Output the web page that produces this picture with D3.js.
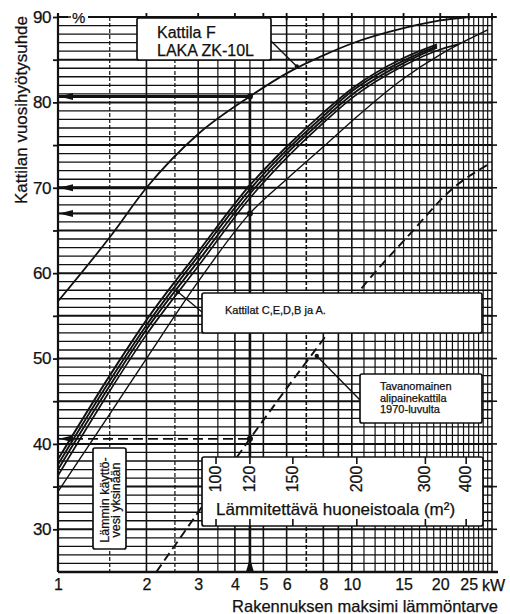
<!DOCTYPE html>
<html>
<head>
<meta charset="utf-8">
<script src="https://cdn.jsdelivr.net/npm/d3@7"></script>
<style>
  body { margin: 0; background: #fff; }
  svg text { font-family: "Liberation Sans", Arial, sans-serif; fill: #111; stroke: #111; stroke-width: 0.25; }
</style>
</head>
<body>
<div id="chart"></div>
<script>
// chart data
var yTicks = [30, 40, 50, 60, 70, 80, 90];
var xTicks = [1, 2, 3, 4, 5, 6, 8, 10, 15, 20, 25];
var topTicks = [2, 3, 4, 5, 6, 8, 10, 15, 20, 25, 30];
var gridKw = [1.5, 2, 2.5, 3, 3.5, 4, 4.5, 5, 6, 7, 8, 9, 10, 11, 12, 13, 14, 15, 16, 17, 18, 19, 20, 21, 22, 23, 24, 25, 26, 27, 28, 29];
var dashedGridKw = [1.5, 2.5, 7];

// Kattila F, LAKA ZK-10L
var kwF = [1, 1.5, 2, 3, 4.5, 6, 8, 10, 15, 20, 25];
var effF = [56.7, 64.2, 70.0, 76.3, 80.7, 83.4, 85.5, 86.9, 88.7, 89.6, 90.0];

// Kattilat C, E, D, B ja A
var kwBundle = [1, 1.5, 2, 3, 4.5, 6, 8, 10, 15, 19.5];
var effC = [38.2, 48.0, 54.5, 62.5, 70.3, 74.8, 78.8, 81.6, 85.2, 86.8];
var effE = [37.6, 47.4, 53.9, 62.0, 69.8, 74.4, 78.4, 81.3, 84.9, 86.6];
var effD = [37.0, 46.8, 53.4, 61.4, 69.3, 74.0, 78.0, 80.9, 84.6, 86.4];
var kwB = [1, 1.5, 2, 3, 4.5, 6, 8, 10, 15, 20, 23];
var effB = [36.3, 46.2, 52.8, 60.8, 68.8, 73.5, 77.6, 80.5, 84.3, 86.2, 86.8];
var kwA = [1, 1.5, 2, 3, 4.5, 6, 8, 10, 15, 20, 25, 29];
var effA = [34.4, 43.5, 50.0, 59.0, 67.0, 71.0, 74.8, 77.8, 82.8, 85.6, 87.4, 88.5];

// Tavanomainen alipainekattila 1970-luvulta
var kwT = [2.16, 3, 4.5, 6, 8.1, 10.9, 15.5, 22.2, 29];
var effT = [25, 32, 40.6, 46.5, 52.5, 58.4, 64.3, 70.0, 72.7];

// read-off example at 4.5 kW
var markKw = 4.5;
var markLevels = [80.7, 70, 67, 40.6];

// floor area scale (m2) and matching kW
var areaLabels = [100, 120, 150, 200, 300, 400];
var areaKw = [3.45, 4.5, 6.3, 10.4, 17.8, 24.5];

var svgWidth = 510;
var svgHeight = 614;

var svg = d3.select("#chart")
    .append("svg")
    .attr("width", svgWidth)
    .attr("height", svgHeight);

var x = d3.scaleLog().domain([1, 30]).range([58, 492]);
var y = d3.scaleLinear().domain([25, 90]).range([572, 17]);

var ink = "#111";

// Step 1: grid
var grid = svg.append("g");
grid.selectAll("line.h")
    .data(d3.range(25, 91))
    .enter()
    .append("line")
    .attr("x1", x(1)).attr("x2", x(30))
    .attr("y1", d => y(d)).attr("y2", d => y(d))
    .attr("stroke", ink)
    .attr("stroke-width", d => d % 5 === 0 ? 2 : 1.3);

grid.selectAll("line.v")
    .data(gridKw)
    .enter()
    .append("line")
    .attr("x1", d => x(d)).attr("x2", d => x(d))
    .attr("y1", y(90)).attr("y2", y(25))
    .attr("stroke", ink)
    .attr("stroke-width", d => Number.isInteger(d) && d <= 10 ? 1.6 : 1.2)
    .attr("stroke-dasharray", d => dashedGridKw.indexOf(d) >= 0 ? "4,2" : null);

// frame
svg.append("line").attr("x1", x(1)).attr("x2", x(1)).attr("y1", y(90) - 4).attr("y2", y(25))
    .attr("stroke", ink).attr("stroke-width", 2.2);
svg.append("line").attr("x1", x(1)).attr("x2", 498).attr("y1", y(25)).attr("y2", y(25))
    .attr("stroke", ink).attr("stroke-width", 2.6);
svg.append("line").attr("x1", x(1)).attr("x2", x(30) + 4).attr("y1", y(90)).attr("y2", y(90))
    .attr("stroke", ink).attr("stroke-width", 2);
svg.append("line").attr("x1", x(30)).attr("x2", x(30)).attr("y1", y(90)).attr("y2", y(25))
    .attr("stroke", ink).attr("stroke-width", 1.6);

// top cross ticks
svg.append("g").selectAll("line")
    .data(topTicks)
    .enter()
    .append("line")
    .attr("x1", d => x(d)).attr("x2", d => x(d))
    .attr("y1", y(90) - 4).attr("y2", y(90) + 3)
    .attr("stroke", ink).attr("stroke-width", 1.8);

// right ticks
svg.append("g").selectAll("line")
    .data(d3.range(30, 91, 5))
    .enter()
    .append("line")
    .attr("x1", x(30) - 3).attr("x2", x(30) + 5)
    .attr("y1", d => y(d)).attr("y2", d => y(d))
    .attr("stroke", ink).attr("stroke-width", 1.6);

// Step 2: axes
var yAxis = d3.axisLeft(y).tickValues(d3.range(30, 91, 5)).tickSize(5).tickPadding(2)
    .tickFormat(d => yTicks.indexOf(d) >= 0 ? d : "");
var gy = svg.append("g").attr("transform", `translate(${x(1)},0)`).call(yAxis);
gy.select(".domain").remove();
gy.selectAll("line").attr("stroke", ink).attr("stroke-width", 1.8);
gy.selectAll("text").attr("font-size", 17).attr("font-family", "Liberation Sans, Arial, sans-serif")
    .attr("letter-spacing", -0.5).attr("fill", ink);

var xAxis = d3.axisBottom(x).tickValues(xTicks).tickSize(0).tickPadding(7)
    .tickFormat(d3.format("d"));
var gx = svg.append("g").attr("transform", `translate(0,${y(25)})`).call(xAxis);
gx.select(".domain").remove();
gx.selectAll("text").attr("font-size", 16).attr("font-family", "Liberation Sans, Arial, sans-serif")
    .attr("fill", ink);

svg.append("text").attr("x", 482).attr("y", 591).attr("font-size", 16).text("kW");

// "%" on top of the axis
svg.append("rect").attr("x", 68).attr("y", 10).attr("width", 20).attr("height", 14).attr("fill", "#fff");
svg.append("line").attr("x1", 66).attr("x2", 71).attr("y1", y(90)).attr("y2", y(90))
    .attr("stroke", ink).attr("stroke-width", 1.5);
svg.append("text").attr("x", 72).attr("y", 23).attr("font-size", 15).text("%");

// axis titles
svg.append("text")
    .attr("transform", "translate(27,110) rotate(-90)")
    .attr("text-anchor", "middle")
    .attr("font-size", 17)
    .text("Kattilan vuosihyötysuhde");

svg.append("text")
    .attr("x", 498).attr("y", 612)
    .attr("text-anchor", "end")
    .attr("font-size", 16.5)
    .text("Rakennuksen maksimi lämmöntarve");

// Step 3: read-off lines at 4.5 kW
svg.append("line")
    .attr("x1", x(markKw)).attr("x2", x(markKw))
    .attr("y1", y(markLevels[0])).attr("y2", y(25))
    .attr("stroke", ink).attr("stroke-width", 2.6);
svg.append("path")
    .attr("d", `M${x(markKw)},${y(25) - 14} L${x(markKw) - 4},${y(25)} L${x(markKw) + 4},${y(25)} Z`)
    .attr("fill", ink);

var markWidth = [3, 3, 2, 1.8];
markLevels.forEach(function (v, i) {
    svg.append("line")
        .attr("x1", x(1)).attr("x2", x(markKw))
        .attr("y1", y(v)).attr("y2", y(v))
        .attr("stroke", ink)
        .attr("stroke-width", markWidth[i])
        .attr("stroke-dasharray", i === 3 ? "10,5" : null);
    svg.append("path")
        .attr("d", `M${x(1) + 1},${y(v)} L${x(1) + 15},${y(v) - 3.5} L${x(1) + 15},${y(v) + 3.5} Z`)
        .attr("fill", ink);
});

// Step 4: curves
var line = d3.line()
    .x(d => x(d[0]))
    .y(d => y(d[1]))
    .curve(d3.curveMonotoneX);

function zip(a, b) { return a.map((d, i) => [d, b[i]]); }

svg.append("path").attr("d", line(zip(kwF, effF)))
    .attr("fill", "none").attr("stroke", ink).attr("stroke-width", 1.8);

[effC, effE, effD].forEach(function (s) {
    svg.append("path").attr("d", line(zip(kwBundle, s)))
        .attr("fill", "none").attr("stroke", ink).attr("stroke-width", 1.9);
});
svg.append("path").attr("d", line(zip(kwB, effB)))
    .attr("fill", "none").attr("stroke", ink).attr("stroke-width", 1.7);
svg.append("path").attr("d", line(zip(kwA, effA)))
    .attr("fill", "none").attr("stroke", ink).attr("stroke-width", 1.4);

svg.append("path").attr("d", line(zip(kwT, effT)))
    .attr("fill", "none").attr("stroke", ink).attr("stroke-width", 1.9)
    .attr("stroke-dasharray", "9,5");

// dots at the read-off points
svg.append("g").selectAll("circle")
    .data(markLevels)
    .enter()
    .append("circle")
    .attr("cx", x(markKw)).attr("cy", d => y(d)).attr("r", 3)
    .attr("fill", ink);

// Step 5: label boxes
function box(x0, y0, x1, y1) {
    svg.append("rect")
        .attr("x", x0).attr("y", y0)
        .attr("width", x1 - x0).attr("height", y1 - y0)
        .attr("rx", 2)
        .attr("fill", "#fff").attr("stroke", ink).attr("stroke-width", 1.7);
}

function leader(x0, y0, kw, eff) {
    svg.append("line")
        .attr("x1", x0).attr("y1", y0)
        .attr("x2", x(kw)).attr("y2", y(eff))
        .attr("stroke", ink).attr("stroke-width", 1.4);
    svg.append("circle").attr("cx", x(kw)).attr("cy", y(eff)).attr("r", 2.2).attr("fill", ink);
}

// Kattila F
box(137, 18, 271, 60);
svg.append("text").attr("x", 157).attr("y", 38).attr("font-size", 16).text("Kattila F");
svg.append("text").attr("x", 157).attr("y", 56).attr("font-size", 16).text("LAKA ZK-10L");
leader(271, 41, 6.5, 84.2);

// Kattilat C,E,D,B ja A
box(202, 293, 482, 333);
svg.append("text").attr("x", 225).attr("y", 314).attr("font-size", 11).text("Kattilat C,E,D,B ja A.");
leader(202, 312, 2.56, 57.8);

// Tavanomainen alipainekattila
box(360, 374, 482, 423);
var tLines = ["Tavanomainen", "alipainekattila", "1970-luvulta"];
tLines.forEach(function (t, i) {
    svg.append("text").attr("x", 380).attr("y", 390 + i * 11.6).attr("font-size", 11).text(t);
});
leader(360, 400, 7.6, 50.3);

// Lämmin käyttövesi yksinään
box(93, 448, 126, 549);
svg.append("text").attr("transform", "translate(109,500) rotate(-90)")
    .attr("text-anchor", "middle").attr("font-size", 12.5).text("Lämmin käyttö-");
svg.append("text").attr("transform", "translate(120,500) rotate(-90)")
    .attr("text-anchor", "middle").attr("font-size", 12.5).text("vesi yksinään");

// Floor area scale
box(202, 457, 483, 526);
svg.append("text").attr("x", 216).attr("y", 515).attr("font-size", 17).text("Lämmitettävä huoneistoala (m²)");
var area = svg.append("g");
area.selectAll("line.top")
    .data(areaKw)
    .enter()
    .append("line")
    .attr("x1", d => x(d)).attr("x2", d => x(d))
    .attr("y1", 457).attr("y2", 464)
    .attr("stroke", ink).attr("stroke-width", 1.6);
area.selectAll("line.bottom")
    .data(areaKw)
    .enter()
    .append("line")
    .attr("x1", d => x(d)).attr("x2", d => x(d))
    .attr("y1", 519).attr("y2", 526)
    .attr("stroke", ink).attr("stroke-width", 1.6);
area.selectAll("text")
    .data(areaLabels)
    .enter()
    .append("text")
    .attr("transform", (d, i) => `translate(${x(areaKw[i]) + 5},479) rotate(-90)`)
    .attr("text-anchor", "middle")
    .attr("font-size", 16)
    .text(d => d);
</script>
</body>
</html>
